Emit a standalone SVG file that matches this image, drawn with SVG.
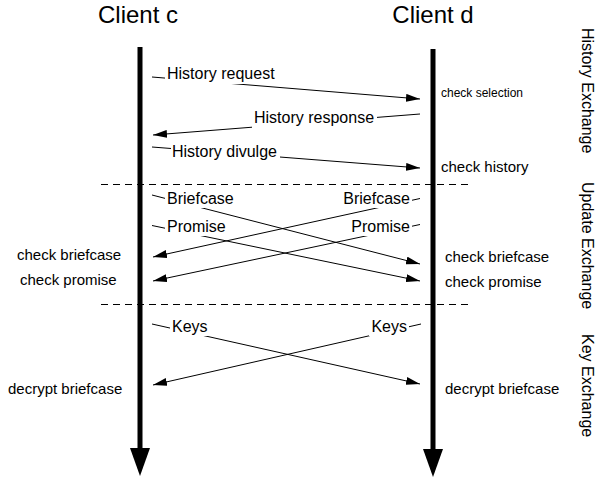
<svg xmlns="http://www.w3.org/2000/svg" width="597" height="479" viewBox="0 0 597 479">
<style>
text{font-family:"Liberation Sans",Arial,Helvetica,sans-serif;fill:#000}
.title{font-size:24px}
.msg{font-size:16px}
.note{font-size:15px}
.small{font-size:12px}
.side{font-size:16px}
.life{stroke:#000;stroke-width:5;fill:none}
.arr{stroke:#000;stroke-width:1;fill:none;marker-end:url(#ah)}
.dash{stroke:#000;stroke-width:1;stroke-dasharray:7,5;fill:none}
.bg{fill:#fff}
</style>
<defs>
<marker id="ah" markerUnits="userSpaceOnUse" markerWidth="14" markerHeight="8" refX="14" refY="4" orient="auto">
<path d="M0,0 L14,4 L0,8 z" fill="#000"/>
</marker>
</defs>
<rect width="597" height="479" fill="#fff"/>
<g id="phases">
<line class="dash" x1="101" y1="184.5" x2="470" y2="184.5"/>
<line class="dash" x1="101" y1="304.5" x2="470" y2="304.5"/>
<text class="side" transform="translate(582,28) rotate(90)">History Exchange</text>
<text class="side" transform="translate(582,182) rotate(90)">Update Exchange</text>
<text class="side" transform="translate(582,334) rotate(90)">Key Exchange</text>
</g>
<g id="client-c">
<text class="title" x="138" y="23" text-anchor="middle">Client c</text>
<line class="life" x1="140" y1="47" x2="140" y2="450"/>
<polygon points="130,448 150,448 140,476" fill="#000"/>
</g>
<g id="client-d">
<text class="title" x="433" y="23" text-anchor="middle">Client d</text>
<line class="life" x1="433" y1="49" x2="433" y2="451"/>
<polygon points="423,449 443,449 433,477" fill="#000"/>
</g>
<g id="connectors">
<g id="history-request">
<line class="arr" x1="152" y1="77" x2="420" y2="99"/>
<rect class="bg" x="165" y="65" width="113" height="19"/>
<text class="msg" x="167" y="79">History request</text>
</g>
<g id="history-response">
<line class="arr" x1="420" y1="114" x2="153" y2="135"/>
<rect class="bg" x="252" y="109" width="125" height="19"/>
<text class="msg" x="254" y="123">History response</text>
</g>
<g id="history-divulge">
<line class="arr" x1="152" y1="147" x2="420" y2="168"/>
<rect class="bg" x="171" y="143" width="109" height="19"/>
<text class="msg" x="172" y="157">History divulge</text>
</g>
<g id="briefcase-cd">
<line class="arr" x1="152" y1="195" x2="420" y2="264"/>
<rect class="bg" x="165" y="190" width="72" height="18"/>
<text class="msg" x="167" y="204">Briefcase</text>
</g>
<g id="briefcase-dc">
<line class="arr" x1="420" y1="198.5" x2="153" y2="257"/>
<rect class="bg" x="341" y="190" width="71" height="18"/>
<text class="msg" x="410" y="204" text-anchor="end">Briefcase</text>
</g>
<g id="promise-cd">
<line class="arr" x1="152" y1="225.5" x2="420" y2="281"/>
<rect class="bg" x="165" y="218" width="62" height="18"/>
<text class="msg" x="167" y="232">Promise</text>
</g>
<g id="promise-dc">
<line class="arr" x1="420" y1="224.5" x2="153" y2="281"/>
<rect class="bg" x="349" y="218" width="63" height="18"/>
<text class="msg" x="410" y="232" text-anchor="end">Promise</text>
</g>
<g id="keys-cd">
<line class="arr" x1="152" y1="324" x2="420" y2="384"/>
<rect class="bg" x="170" y="318" width="40" height="18"/>
<text class="msg" x="172" y="332">Keys</text>
</g>
<g id="keys-dc">
<line class="arr" x1="421" y1="324" x2="153" y2="385"/>
<rect class="bg" x="369" y="318" width="40" height="18"/>
<text class="msg" x="407" y="332" text-anchor="end">Keys</text>
</g>
</g>
<g id="annotations">
<text class="small" x="441" y="97">check selection</text>
<text class="note" x="441" y="172">check history</text>
<text class="note" x="17" y="260">check briefcase</text>
<text class="note" x="20" y="285">check promise</text>
<text class="note" x="445" y="262">check briefcase</text>
<text class="note" x="445" y="287">check promise</text>
<text class="note" x="8" y="394">decrypt briefcase</text>
<text class="note" x="445" y="394">decrypt briefcase</text>
</g>
</svg>
